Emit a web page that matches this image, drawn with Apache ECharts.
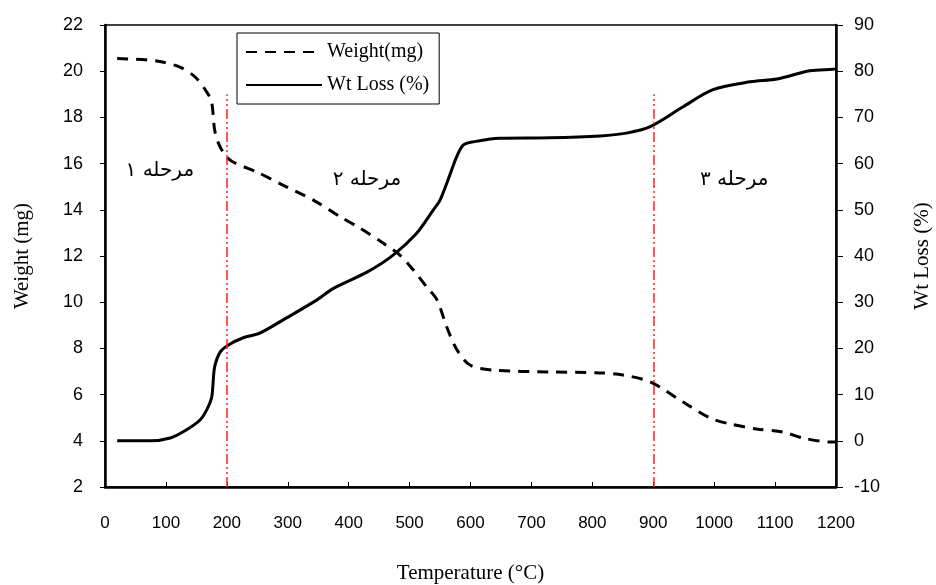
<!DOCTYPE html>
<html style="height: 100%;">
<head>
<meta charset="utf-8">
<title>TGA</title>
<script src="https://cdn.jsdelivr.net/npm/echarts@6/dist/echarts.min.js"></script>
</head>
<body style="height: 100%; margin: 0; background: #fff;">
<div id="container" style="width: 936px; height: 585px;"></div>
<script type="text/javascript">
// weight curve (left axis)
var weightTemp = [20, 85, 123, 148, 167, 175, 180, 186, 197, 210, 249, 292, 342, 386, 419, 457, 484, 506, 528, 545, 561, 578, 599, 637, 730, 813, 850, 895, 949, 993, 1026, 1070, 1113, 1146, 1190, 1200];
var weightVal = [20.55, 20.44, 20.18, 19.75, 19.1, 18.67, 17.45, 16.9, 16.37, 16.07, 15.64, 15.07, 14.42, 13.7, 13.2, 12.55, 12.04, 11.4, 10.66, 10.1, 8.93, 7.93, 7.28, 7.06, 6.98, 6.94, 6.85, 6.55, 5.68, 4.99, 4.73, 4.51, 4.38, 4.12, 3.95, 3.95];
// wt loss curve (right axis)
var lossTemp = [20, 74, 107, 134, 156, 167, 175, 177, 180, 189, 202, 227, 254, 298, 348, 375, 430, 473, 512, 539, 550, 566, 577, 588, 604, 648, 730, 813, 856, 895, 949, 998, 1059, 1103, 1157, 1195, 1200];
var lossVal = [0, 0, 0.6, 2.4, 4.5, 6.7, 9.3, 11.8, 16, 19.2, 20.7, 22.3, 23.3, 26.6, 30.5, 33, 36.5, 40.2, 45, 50, 52.1, 57.5, 61.4, 64, 64.7, 65.5, 65.6, 66, 66.6, 68, 72.3, 76, 77.7, 78.3, 80.1, 80.4, 80.5];
// stage boundaries and labels
var stageLines = [200, 900];
var stageLineTop = 19;
var stageNames = ['مرحله ۱', 'مرحله ۲', 'مرحله ۳'];
var stageLabelPos = [[90, 15.7], [430, 15.3], [1033, 15.3]];

function pairs(xs, ys) {
    return xs.map(function (x, i) { return [x, ys[i]]; });
}

var dom = document.getElementById("container");
var myChart = echarts.init(dom);
var serif = 'Liberation Serif, Times New Roman, serif';
var sans = 'Liberation Sans, Arial, sans-serif';

var option = {
    animation: false,
    grid: {
        left: 105, right: 100, top: 25, bottom: 98,
        outerBoundsMode: 'none',
        containLabel: false,
        show: true, borderColor: '#000', borderWidth: 1.5
    },
    legend: {
        orient: 'vertical',
        left: 237, top: 33,
        padding: [9, 10, 9, 8],
        itemGap: 13,
        itemWidth: 76,
        itemHeight: 18,
        borderColor: '#000',
        borderWidth: 1,
        borderRadius: 0,
        backgroundColor: '#fff',
        itemStyle: { opacity: 0 },
        textStyle: { fontFamily: serif, fontSize: 20, color: '#000' },
        data: ['Weight(mg)', 'Wt Loss (%)']
    },
    xAxis: {
        type: 'value',
        min: 0, max: 1200, interval: 100,
        name: 'Temperature (°C)',
        nameLocation: 'middle',
        nameGap: 76,
        nameTextStyle: { fontFamily: serif, fontSize: 21, color: '#000' },
        axisLine: { onZero: false, lineStyle: { color: '#000', width: 2.5 } },
        axisTick: { inside: true, length: 5, lineStyle: { color: '#000' } },
        axisLabel: { fontFamily: sans, fontSize: 17, color: '#000', margin: 28, formatter: function (v) { return String(v); } },
        splitLine: { show: false }
    },
    yAxis: [{
        type: 'value',
        min: 2, max: 22, interval: 2,
        name: 'Weight (mg)',
        nameLocation: 'middle',
        nameGap: 72,
        nameRotate: 90,
        nameTextStyle: { fontFamily: serif, fontSize: 21, color: '#000' },
        axisLine: { show: true, onZero: false, lineStyle: { color: '#000', width: 2.5 } },
        axisTick: { show: true, length: 5, lineStyle: { color: '#000' } },
        axisLabel: { fontFamily: sans, fontSize: 18, color: '#000', margin: 22 },
        splitLine: { show: false }
    }, {
        type: 'value',
        position: 'right',
        min: -10, max: 90, interval: 10,
        name: 'Wt Loss (%)',
        nameLocation: 'middle',
        nameGap: 76,
        nameRotate: 90,
        nameTextStyle: { fontFamily: serif, fontSize: 21, color: '#000' },
        axisLine: { show: true, onZero: false, lineStyle: { color: '#000', width: 2.5 } },
        axisTick: { show: true, length: 7, lineStyle: { color: '#000' } },
        axisLabel: { fontFamily: sans, fontSize: 18, color: '#000', margin: 18 },
        splitLine: { show: false }
    }],
    series: [{
        name: 'Weight(mg)',
        type: 'line',
        yAxisIndex: 0,
        symbol: 'none',
        smooth: 0.3,
        lineStyle: { color: '#000', width: 3, type: [11, 8] },
        itemStyle: { color: '#000' },
        data: pairs(weightTemp, weightVal),
        markLine: {
            silent: true,
            symbol: 'none',
            label: { show: false },
            lineStyle: { color: '#ff2020', width: 1.5, type: [10, 3, 2, 3, 2, 3] },
            data: stageLines.map(function (t) {
                return [{ coord: [t, 2] }, { coord: [t, stageLineTop] }];
            })
        },
        markPoint: {
            silent: true,
            symbol: 'circle',
            symbolSize: 0,
            label: {
                show: true,
                position: 'inside',
                fontFamily: 'DejaVu Serif, DejaVu Sans, serif',
                fontSize: 20,
                color: '#000'
            },
            data: stageNames.map(function (n, i) {
                return { coord: stageLabelPos[i], value: n, label: { formatter: n } };
            })
        }
    }, {
        name: 'Wt Loss (%)',
        type: 'line',
        yAxisIndex: 1,
        symbol: 'none',
        smooth: 0.3,
        lineStyle: { color: '#000', width: 3 },
        itemStyle: { color: '#000' },
        data: pairs(lossTemp, lossVal)
    }]
};
myChart.setOption(option);
</script>
</body>
</html>
